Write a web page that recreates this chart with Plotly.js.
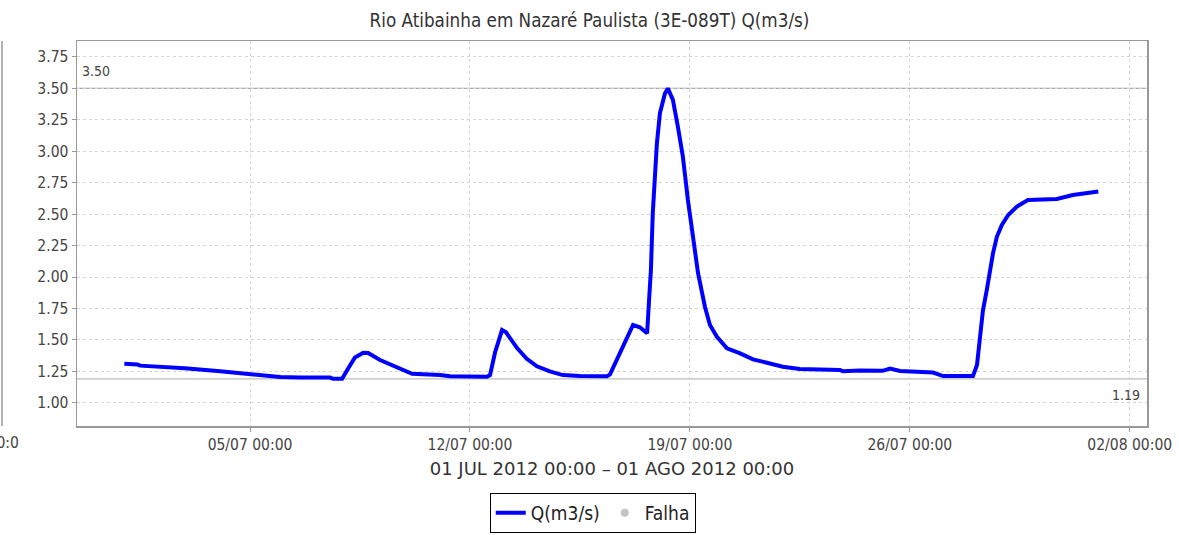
<!DOCTYPE html>
<html>
<head>
<meta charset="utf-8">
<script src="https://cdn.plot.ly/plotly-3.0.1.min.js"></script>
<style>html,body{margin:0;padding:0;background:#fff;}#chart{width:1179px;height:535px;}</style>
</head>
<body>
<div id="chart"></div>
<script>
// ---- data ----
const chartTitle = 'Rio Atibainha em Nazaré Paulista (3E-089T) Q(m3/s)';
const periodLabel = '01 JUL 2012 00:00 – 01 AGO 2012 00:00';
const seriesName = 'Q(m3/s)';
const failName = 'Falha';
const times = [
 '2012-07-01 00:00','2012-07-01 10:00','2012-07-01 12:00','2012-07-01 23:30','2012-07-02 22:20',
 '2012-07-04 01:10','2012-07-05 00:00','2012-07-05 23:00','2012-07-06 14:10','2012-07-07 13:10',
 '2012-07-07 15:20','2012-07-07 22:20','2012-07-08 02:50','2012-07-08 08:10','2012-07-08 14:25',
 '2012-07-08 18:15','2012-07-09 03:20','2012-07-09 16:20','2012-07-10 03:50','2012-07-11 01:10',
 '2012-07-11 08:50','2012-07-12 13:00','2012-07-12 15:20','2012-07-12 19:10','2012-07-13 00:30',
 '2012-07-13 03:35','2012-07-13 12:00','2012-07-13 19:25','2012-07-14 03:10','2012-07-14 13:00',
 '2012-07-14 23:00','2012-07-15 12:00','2012-07-16 08:40','2012-07-16 11:00','2012-07-16 20:50',
 '2012-07-17 04:35','2012-07-17 09:50','2012-07-17 15:20','2012-07-17 16:50','2012-07-17 18:15',
 '2012-07-17 19:40','2012-07-17 21:20','2012-07-17 22:50','2012-07-18 01:10','2012-07-18 05:00',
 '2012-07-18 07:10','2012-07-18 11:00','2012-07-18 14:50','2012-07-18 18:40','2012-07-18 22:30',
 '2012-07-19 02:25','2012-07-19 06:15','2012-07-19 11:30','2012-07-19 15:20','2012-07-19 20:40',
 '2012-07-20 04:20','2012-07-20 14:25','2012-07-21 00:15','2012-07-21 10:50','2012-07-21 23:00',
 '2012-07-22 12:00','2012-07-23 18:45','2012-07-23 20:50','2012-07-24 09:50','2012-07-25 03:20',
 '2012-07-25 08:50','2012-07-25 16:35','2012-07-26 02:25','2012-07-26 17:45','2012-07-27 01:25',
 '2012-07-28 00:15','2012-07-28 03:20','2012-07-28 05:45','2012-07-28 07:55','2012-07-28 10:50',
 '2012-07-28 13:10','2012-07-28 15:35','2012-07-28 18:30','2012-07-28 22:20','2012-07-29 03:10',
 '2012-07-29 09:50','2012-07-29 18:15','2012-07-30 16:20','2012-07-31 04:35','2012-07-31 23:00',
 '2012-08-01 00:00'
];
const flow = [
 1.31,1.305,1.295,1.29,1.275,
 1.25,1.225,1.205,1.20,1.20,
 1.19,1.19,1.27,1.36,1.398,
 1.395,1.34,1.28,1.23,1.22,
 1.21,1.207,1.22,1.40,1.578,
 1.56,1.435,1.35,1.29,1.25,
 1.22,1.212,1.21,1.225,1.445,
 1.618,1.60,1.552,1.817,2.056,
 2.509,2.77,3.066,3.305,3.461,
 3.50,3.41,3.196,2.957,2.613,
 2.294,2.03,1.764,1.618,1.525,
 1.433,1.393,1.345,1.318,1.286,
 1.268,1.26,1.25,1.256,1.254,
 1.272,1.252,1.246,1.24,1.212,
 1.212,1.30,1.50,1.737,1.897,
 2.056,2.19,2.32,2.414,2.493,
 2.56,2.613,2.62,2.652,2.679,
 2.68
];
// no failure ("Falha") values in this period
const failTimes = ['2012-07-01 00:00'];
const failValues = [null];
const markerValues = [3.50, 1.19];
const markerLabels = ['3.50', '1.19'];
const xRange = ['2012-06-29 11:50', '2012-08-02 13:12'];
const yRange = [0.815, 3.877];
const neighbourTick = '02/08 00:0';

const FONT = 'DejaVu Sans Condensed, DejaVu Sans, sans-serif';
const tickFont = {family: FONT, size: 15.5, color: '#444'};

const traces = [
  {x: times, y: flow, type: 'scatter', mode: 'lines', name: seriesName,
   line: {color: '#0000ff', width: 4}},
  {x: failTimes, y: failValues, type: 'scatter', mode: 'markers', name: failName,
   marker: {color: '#c4c4c4', size: 8}}
];

const layout = {
  width: 1179, height: 535,
  margin: {l: 77, r: 32, t: 41, b: 109, autoexpand: false},
  paper_bgcolor: '#fff', plot_bgcolor: '#fff',
  title: {text: chartTitle, x: 0.5, xref: 'container', xanchor: 'center', y: 0.961, yref: 'container', yanchor: 'middle',
          font: {family: FONT, size: 18.7, color: '#333'}},
  xaxis: {
    type: 'date', range: xRange, tick0: '2012-07-05', dtick: 7*86400000,
    tickformat: '%d/%m %H:%M', tickfont: tickFont,
    showgrid: true, gridcolor: '#d4d4d4', griddash: 'dot', gridwidth: 1,
    ticks: 'outside', ticklen: 4, tickcolor: '#999',
    showline: true, linecolor: '#999', linewidth: 1.5, mirror: true, zeroline: false,
    title: {text: periodLabel, standoff: 9, font: {family: 'DejaVu Sans, sans-serif', size: 18, color: '#333'}}
  },
  yaxis: {
    range: yRange, tick0: 0, dtick: 0.25, tickformat: '.2f', tickfont: tickFont,
    showgrid: true, gridcolor: '#d4d4d4', griddash: 'dot', gridwidth: 1,
    ticks: 'outside', ticklen: 4, tickcolor: '#999',
    showline: true, linecolor: '#999', linewidth: 1.5, mirror: true, zeroline: false
  },
  showlegend: true,
  legend: {orientation: 'h', x: 0.482, xanchor: 'center', y: -0.174, yanchor: 'top',
           bordercolor: '#000', borderwidth: 1, bgcolor: '#fff',
           font: {family: FONT, size: 19, color: '#222'},
           itemwidth: 30, tracegroupgap: 0},
  shapes: [
    {type: 'line', xref: 'paper', x0: 0, x1: 1, yref: 'y', y0: markerValues[0], y1: markerValues[0],
     line: {color: '#aaa', width: 1.2}, layer: 'below'},
    {type: 'line', xref: 'paper', x0: 0, x1: 1, yref: 'y', y0: markerValues[1], y1: markerValues[1],
     line: {color: '#bbb', width: 1.2}, layer: 'below'},
    {type: 'line', xref: 'paper', x0: -0.0701, x1: -0.0701, yref: 'paper', y0: 0, y1: 1,
     line: {color: '#999', width: 1.5}}
  ],
  annotations: [
    {xref: 'paper', x: 0, xanchor: 'left', xshift: 3, yref: 'y', y: markerValues[0], yanchor: 'bottom', yshift: 7,
     text: markerLabels[0], showarrow: false, font: {family: FONT, size: 14, color: '#444'}},
    {xref: 'paper', x: 1, xanchor: 'right', xshift: -5, yref: 'y', y: markerValues[1], yanchor: 'top', yshift: -6,
     text: markerLabels[1], showarrow: false, font: {family: FONT, size: 14, color: '#444'}},
    {xref: 'paper', x: -0.0524, xanchor: 'right', yref: 'paper', y: 0, yanchor: 'top', yshift: -6,
     text: neighbourTick, showarrow: false, font: tickFont}
  ]
};

Plotly.newPlot('chart', traces, layout, {displayModeBar: false, staticPlot: true});
</script>
</body>
</html>
